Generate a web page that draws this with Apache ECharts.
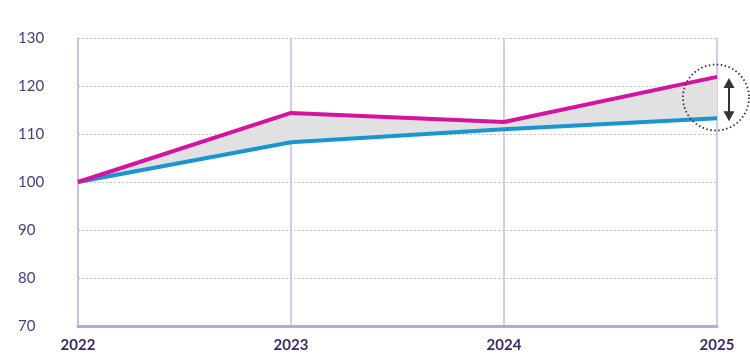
<!DOCTYPE html>
<html><head><meta charset="utf-8">
<script src="https://cdn.jsdelivr.net/npm/echarts@6/dist/echarts.min.js"></script>
<style>html,body{margin:0;padding:0;background:#fff}#c{width:750px;height:357px}</style>
</head><body><div id="c"></div>
<script>
const years = ['2022','2023','2024','2025'];
const magenta = [100, 114.4, 112.5, 121.9];
const blue = [100, 108.3, 111.0, 113.3];
const yTicks = [70, 80, 90, 100, 110, 120, 130];

const diff = magenta.map((v,i)=>+(v-blue[i]).toFixed(2));
const chart = echarts.init(document.getElementById('c'));
chart.setOption({
  animation:false,
  grid:{left:78,right:33,top:38,bottom:31},
  xAxis:{type:'category',data:years,boundaryGap:false,
    axisLine:{show:true,lineStyle:{color:'#b9a6dc',width:3}},
    axisTick:{show:false},
    axisLabel:{color:'#3a2962',fontFamily:'Lato',fontWeight:'bold',fontSize:15,margin:12},
    splitLine:{show:true,lineStyle:{color:'#c9b9e4',width:1.5}}},
  yAxis:{type:'value',min:yTicks[0],max:yTicks[yTicks.length-1],interval:10,
    axisLine:{show:true,lineStyle:{color:'#c9b9e4',width:1.5}},
    axisTick:{show:false},
    axisLabel:{color:'#4b3b7c',fontFamily:'Lato',fontSize:15,align:'left',margin:60},
    splitLine:{show:true,lineStyle:{color:'#c4c4c4',type:[2,2],width:1}}},
  series:[
    {type:'line',data:blue,stack:'s',symbol:'none',lineStyle:{opacity:0},z:1},
    {type:'line',data:diff,stack:'s',symbol:'none',lineStyle:{opacity:0},areaStyle:{color:'#e1e1e1',opacity:1},z:1},
    {type:'line',data:blue,symbol:'none',lineStyle:{color:'#1a95d1',width:4},z:3},
    {type:'line',data:magenta,symbol:'none',lineStyle:{color:'#d4139f',width:4},z:4}
  ]
});
const last = years.length-1;
const pTop = chart.convertToPixel({seriesIndex:3},[last,magenta[last]]);
const pBot = chart.convertToPixel({seriesIndex:2},[last,blue[last]]);
const cx = pTop[0]-1, cy=(pTop[1]+pBot[1])/2;
const ax = pTop[0]+12;
const y1 = pTop[1]+1, y2 = pBot[1]+3;
chart.setOption({graphic:[
  {type:'circle',shape:{cx:cx,cy:cy,r:33},style:{fill:'none',stroke:'#333',lineWidth:1.8,lineDash:[1.5,2.5]},z:10},
  {type:'line',shape:{x1:ax,y1:y1+6,x2:ax,y2:y2-6},style:{stroke:'#333',lineWidth:2},z:10},
  {type:'polygon',shape:{points:[[ax,y1],[ax-5.5,y1+10],[ax+5.5,y1+10]]},style:{fill:'#333'},z:10},
  {type:'polygon',shape:{points:[[ax,y2],[ax-5.5,y2-10],[ax+5.5,y2-10]]},style:{fill:'#333'},z:10}
]});
</script></body></html>
